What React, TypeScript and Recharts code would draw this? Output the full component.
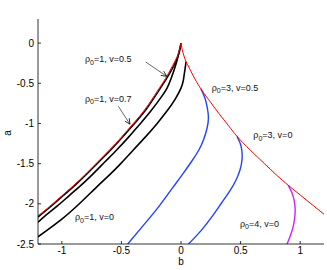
import React from "react"
import { LineChart, Line, XAxis, YAxis, ReferenceDot, ReferenceLine } from "recharts"

const xTicks = [-1, -0.5, 0, 0.5, 1]
const yTicks = [0, -0.5, -1, -1.5, -2, -2.5]

// [b, a] pairs

// envelope, left of the cusp
const envelopeLeft = [
  [-1.2, -2.15], [-1.1, -2.03], [-1.0, -1.9], [-0.9, -1.77], [-0.8, -1.63], [-0.7, -1.48],
  [-0.6, -1.33], [-0.5, -1.17], [-0.4, -1.0], [-0.3, -0.82], [-0.2, -0.6], [-0.13, -0.44],
  [-0.07, -0.28], [-0.03, -0.16], [-0.01, -0.07], [0, 0],
]

// envelope, right of the cusp
const envelopeRight = [
  [0, 0], [0.01, -0.08], [0.025, -0.16], [0.042, -0.23], [0.07, -0.31], [0.1, -0.4],
  [0.167, -0.57], [0.25, -0.74], [0.32, -0.88], [0.4, -1.03], [0.47, -1.16], [0.58, -1.33],
  [0.7, -1.5], [0.8, -1.64], [0.9, -1.77], [1.0, -1.89], [1.1, -2.01], [1.2, -2.13],
]

const rho1v07 = [
  [-1.2, -2.165], [-1.09, -2.03], [-0.99, -1.9], [-0.89, -1.77], [-0.79, -1.63], [-0.69, -1.48],
  [-0.59, -1.33], [-0.49, -1.17], [-0.39, -1.0], [-0.29, -0.82], [-0.19, -0.6], [-0.12, -0.44],
  [-0.06, -0.28], [-0.025, -0.16], [-0.007, -0.07], [0, 0],
]

const rho1v05 = [
  [-1.2, -2.23], [-1.14, -2.15], [-1.04, -2.03], [-0.94, -1.9], [-0.84, -1.77], [-0.74, -1.63],
  [-0.64, -1.48], [-0.54, -1.33], [-0.44, -1.17], [-0.34, -1.0], [-0.25, -0.84], [-0.16, -0.66],
  [-0.117, -0.56], [-0.083, -0.44], [-0.04, -0.25], [-0.015, -0.1], [0, 0],
]

const rho1v0 = [
  [-1.2, -2.41], [-1.0, -2.19], [-0.84, -1.98], [-0.7, -1.78], [-0.6, -1.64], [-0.5, -1.49],
  [-0.4, -1.33], [-0.3, -1.17], [-0.2, -1.0], [-0.11, -0.83], [-0.05, -0.7], [0, -0.56],
  [0.02, -0.46], [0.03, -0.36], [0.038, -0.28], [0.042, -0.23],
]

const rho3v05 = [
  [0.167, -0.57], [0.2, -0.68], [0.22, -0.8], [0.23, -0.92], [0.22, -1.05], [0.19, -1.2],
  [0.15, -1.33], [0.09, -1.47], [0.014, -1.63], [-0.05, -1.76], [-0.1, -1.86], [-0.2, -2.06],
  [-0.3, -2.24], [-0.447, -2.5],
]

const rho3v0 = [
  [0.47, -1.16], [0.495, -1.24], [0.51, -1.33], [0.512, -1.45], [0.495, -1.58], [0.46, -1.71],
  [0.41, -1.84], [0.34, -1.99], [0.26, -2.16], [0.17, -2.33], [0.063, -2.5],
]

const rho4v0 = [
  [0.9, -1.77], [0.93, -1.86], [0.95, -1.96], [0.958, -2.07], [0.952, -2.2], [0.935, -2.32],
  [0.912, -2.42], [0.89, -2.5],
]

// text annotations, anchored at the start of the baseline
const labels = [
  { b: -0.806, a: -0.239, sub: "0", text: "=1, v=0.5" },
  { b: -0.806, a: -0.73, sub: "0", text: "=1, v=0.7" },
  { b: -0.89, a: -2.205, sub: "0", text: "=1, v=0" },
  { b: 0.258, a: -0.595, sub: "0", text: "=3, v=0.5" },
  { b: 0.607, a: -1.183, sub: "0", text: "=3, v=0" },
  { b: 0.495, a: -2.285, sub: "0", text: "=4, v=0" },
]

const arrows = [
  { from: [-0.296, -0.235], to: [-0.12, -0.413] },
  { from: [-0.526, -0.786], to: [-0.428, -1.009] },
]

const toPts = (pts: number[][]) => pts.map(([b, a]) => ({ b, a }))

const series = [
  { key: "rho1v07", pts: rho1v07, color: "#000000", width: 1.5 },
  { key: "rho1v05", pts: rho1v05, color: "#000000", width: 1.6 },
  { key: "rho1v0", pts: rho1v0, color: "#000000", width: 1.6 },
  { key: "rho3v05", pts: rho3v05, color: "#2244ff", width: 1.4 },
  { key: "rho3v0", pts: rho3v0, color: "#2244ff", width: 1.4 },
  { key: "rho4v0", pts: rho4v0, color: "#cc22ff", width: 1.4 },
  { key: "envL", pts: envelopeLeft, color: "#ff0000", width: 1 },
  { key: "envR", pts: envelopeRight, color: "#ff0000", width: 1 },
]

const FONT = "'Liberation Sans', Arial, Helvetica, sans-serif"
const TICK = 3
const GAP = 4
const XGAP = 3

const BottomTick = ({ x, y, payload }: any) => (
  <g>
    <line x1={x} x2={x} y1={y - XGAP} y2={y - XGAP - TICK} stroke="#000" strokeWidth={0.8} />
    <text x={x} y={y} dy="0.71em" textAnchor="middle" fontSize={10} fill="#000" fontFamily={FONT}>
      {String(payload.value)}
    </text>
  </g>
)

const LeftTick = ({ x, y, payload }: any) => (
  <g>
    <line x1={x + GAP} x2={x + GAP + TICK} y1={y} y2={y} stroke="#000" strokeWidth={0.8} />
    <text x={x} y={y} dy="0.355em" textAnchor="end" fontSize={10} fill="#000" fontFamily={FONT}>
      {String(payload.value)}
    </text>
  </g>
)

const TopTick = ({ x, y }: any) => <line x1={x} x2={x} y1={y} y2={y + TICK} stroke="#000" strokeWidth={0.8} />

const RightTick = ({ x, y }: any) => <line x1={x} x2={x - TICK} y1={y} y2={y} stroke="#000" strokeWidth={0.8} />

const XTitle = ({ viewBox }: any) => {
  if (!viewBox) return null
  return (
    <text x={viewBox.x + viewBox.width / 2} y={viewBox.y + viewBox.height - 5} textAnchor="middle" fontSize={10} fill="#000" fontFamily={FONT}>
      b
    </text>
  )
}

const YTitle = ({ viewBox }: any) => {
  if (!viewBox) return null
  const x = viewBox.x + 7.5
  const y = viewBox.y + viewBox.height / 2 + 1.5
  return (
    <text x={x} y={y} transform={`rotate(-90 ${x} ${y})`} textAnchor="middle" dy="0.3em" fontSize={10} fill="#000" fontFamily={FONT}>
      a
    </text>
  )
}

const ArrowShape = (props: any) => {
  const { x1, y1, x2, y2 } = props
  const ang = Math.atan2(y2 - y1, x2 - x1)
  const len = 6
  const spread = 0.45
  const hx1 = x2 - len * Math.cos(ang - spread)
  const hy1 = y2 - len * Math.sin(ang - spread)
  const hx2 = x2 - len * Math.cos(ang + spread)
  const hy2 = y2 - len * Math.sin(ang + spread)
  return (
    <g>
      <line x1={x1} y1={y1} x2={x2} y2={y2} stroke="#000" strokeWidth={0.6} />
      <path d={`M${hx1},${hy1} L${x2},${y2} L${hx2},${hy2}`} fill="none" stroke="#000" strokeWidth={0.8} />
    </g>
  )
}

const makeLabel = (sub: string, text: string) => (props: any) => {
  const { cx, cy } = props
  return (
    <text x={cx} y={cy} fontSize={9} fill="#111" fontFamily={FONT}>
      <tspan>ρ</tspan>
      <tspan fontSize={7} dy={2.5}>{sub}</tspan>
      <tspan dy={-2.5}>{text}</tspan>
    </text>
  )
}

export default function App() {
  return (
    <div style={{ position: "absolute", left: 0, top: 0, width: 327, height: 270, background: "#fff" }}>
      <LineChart width={327} height={270} margin={{ top: 19, right: 3, bottom: 0, left: 0 }}>
        <XAxis
          dataKey="b"
          type="number"
          domain={[-1.2, 1.2]}
          ticks={xTicks}
          interval={0}
          allowDataOverflow
          height={26}
          tickSize={0}
          tickMargin={XGAP}
          tickLine={false}
          tick={<BottomTick />}
          axisLine={{ stroke: "#000", strokeWidth: 0.8 }}
          label={<XTitle />}
        />
        <XAxis
          xAxisId="top"
          orientation="top"
          dataKey="b"
          type="number"
          domain={[-1.2, 1.2]}
          ticks={xTicks}
          interval={0}
          allowDataOverflow
          height={0}
          tickSize={0}
          tickMargin={0}
          tickLine={false}
          tick={<TopTick />}
          axisLine={{ stroke: "#000", strokeWidth: 0.8 }}
        />
        <YAxis
          type="number"
          domain={[-2.5, 0.3]}
          ticks={yTicks}
          interval={0}
          allowDataOverflow
          width={38}
          tickSize={0}
          tickMargin={GAP}
          tickLine={false}
          tick={<LeftTick />}
          axisLine={{ stroke: "#000", strokeWidth: 0.8 }}
          label={<YTitle />}
        />
        <YAxis
          yAxisId="right"
          orientation="right"
          type="number"
          domain={[-2.5, 0.3]}
          ticks={yTicks}
          interval={0}
          allowDataOverflow
          width={0}
          tickSize={0}
          tickMargin={0}
          tickLine={false}
          tick={<RightTick />}
          axisLine={{ stroke: "#000", strokeWidth: 0.8 }}
        />

        {series.map((s) => (
          <Line
            key={s.key}
            data={toPts(s.pts)}
            dataKey="a"
            type="natural"
            stroke={s.color}
            strokeWidth={s.width}
            dot={false}
            activeDot={false}
            isAnimationActive={false}
          />
        ))}

        {arrows.map((ar, i) => (
          <ReferenceLine
            key={`arrow-${i}`}
            segment={[
              { x: ar.from[0], y: ar.from[1] },
              { x: ar.to[0], y: ar.to[1] },
            ]}
            shape={ArrowShape}
          />
        ))}

        {labels.map((l, i) => (
          <ReferenceDot key={`lab-${i}`} x={l.b} y={l.a} r={0} shape={makeLabel(l.sub, l.text)} />
        ))}
      </LineChart>
    </div>
  )
}
